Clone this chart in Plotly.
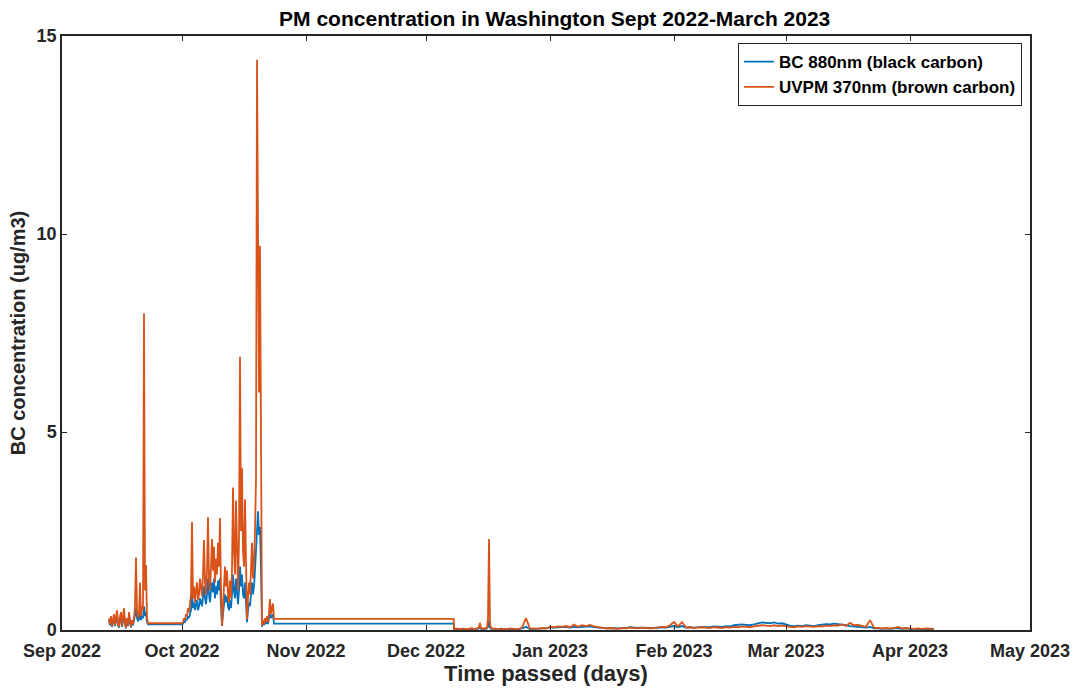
import pandas as pd
import plotly.graph_objects as go

# ---- Measurement segments (start time, sampling step, values) ----
# Segment 1: mid-September burst, 6-hourly
seg1_start = "2022-09-12 18:00"
seg1_step = "6h"
seg1_bc = [0.25, 0.12, 0.28, 0.08, 0.2, 0.3, 0.1, 0.25, 0.38, 0.12,
           0.06, 0.28, 0.35, 0.08, 0.22, 0.4, 0.15, 0.04, 0.24, 0.1,
           0.35, 0.14, 0.06, 0.2, 0.12, 0.24, 0.4, 0.55, 0.3, 0.22,
           0.28, 0.4, 0.25, 0.35, 0.3, 0.6, 0.35, 0.45, 0.2, 0.14]
seg1_uv = [0.3, 0.15, 0.35, 0.1, 0.25, 0.4, 0.12, 0.3, 0.5, 0.15,
           0.08, 0.35, 0.45, 0.1, 0.28, 0.55, 0.2, 0.05, 0.3, 0.12,
           0.45, 0.18, 0.08, 0.25, 0.15, 0.3, 0.6, 1.83, 0.5, 0.3,
           0.4, 1.2, 0.35, 0.6, 0.5, 8.0, 1.0, 1.64, 0.3, 0.17]

# Segment 2: October smoke episode, 6-hourly
seg2_start = "2022-10-01 00:00"
seg2_step = "6h"
seg2_bc = [0.14, 0.16, 0.22, 0.2, 0.28, 0.25, 0.35, 0.3, 0.4, 0.5,
           0.9, 0.55, 0.7, 0.5, 0.65, 0.75, 0.5, 0.6, 0.8, 0.7,
           0.6, 0.85, 1.1, 0.8, 0.65, 0.9, 1.3, 0.9, 0.7, 1.0,
           1.2, 0.95, 1.3, 0.8, 1.1, 0.9, 1.25, 1.0, 1.3, 0.6,
           0.1, 0.4, 0.6, 0.9, 0.7, 0.85, 0.6, 0.5, 0.75, 0.55,
           0.9, 1.4, 1.0, 0.8, 1.3, 0.9, 0.65, 1.0, 1.6, 1.1,
           1.4, 0.9, 0.8, 1.2, 0.6, 0.2, 0.5, 0.7, 0.6, 0.9,
           1.2, 0.9, 1.1, 1.5, 2.0, 2.8, 3.0, 2.4, 2.6, 1.5,
           0.08, 0.2, 0.12, 0.22, 0.15, 0.25, 0.15, 0.3, 0.4, 0.3,
           0.35, 0.4]
seg2_uv = [0.17, 0.2, 0.3, 0.25, 0.4, 0.35, 0.55, 0.45, 0.7, 0.9,
           2.73, 0.8, 1.1, 0.7, 1.0, 1.2, 0.75, 0.9, 1.3, 1.0,
           0.85, 1.4, 2.27, 1.2, 0.9, 1.5, 2.85, 1.3, 1.0, 1.6,
           2.3, 1.5, 2.1, 1.2, 1.8, 1.4, 2.2, 1.6, 2.83, 1.0,
           0.1, 0.6, 1.0, 1.6, 1.1, 1.5, 0.9, 0.7, 1.25, 0.8,
           1.5, 3.6, 2.0, 1.4, 3.27, 1.5, 1.0, 2.3, 6.9, 2.5,
           4.1, 2.0, 1.6, 3.3, 1.1, 0.27, 0.8, 1.2, 0.9, 1.5,
           2.2, 1.3, 1.7, 2.5, 3.8, 14.4, 10.7, 6.0, 9.7, 4.0,
           0.1, 0.25, 0.15, 0.3, 0.2, 0.35, 0.2, 0.45, 0.78, 0.4,
           0.6, 0.67]

# Segment 3: held value while the instrument was offline
seg3_times = ["2022-10-24 00:00", "2022-12-07 22:00"]
seg3_bc = [0.16, 0.16]
seg3_uv = [0.28, 0.28]

# Segment 4: restart in December, 6-hourly
seg4_start = "2022-12-08 00:00"
seg4_step = "6h"
seg4_bc = [0.02, 0.02, 0.03, 0.02, 0.02, 0.02, 0.02, 0.02,
           0.02, 0.03, 0.02, 0.02, 0.02, 0.02, 0.02, 0.02,
           0.03, 0.02, 0.03, 0.02, 0.02, 0.02, 0.03, 0.02,
           0.03, 0.05, 0.07, 0.03, 0.02, 0.03, 0.02, 0.03,
           0.03, 0.04, 0.08, 0.25, 0.06, 0.03, 0.03, 0.03,
           0.02, 0.03, 0.02, 0.02, 0.02, 0.02, 0.02, 0.03]
seg4_uv = [0.03, 0.02, 0.04, 0.03, 0.02, 0.03, 0.02, 0.03,
           0.03, 0.04, 0.02, 0.03, 0.02, 0.03, 0.02, 0.03,
           0.04, 0.03, 0.05, 0.03, 0.03, 0.02, 0.04, 0.03,
           0.04, 0.08, 0.18, 0.05, 0.03, 0.04, 0.03, 0.05,
           0.04, 0.06, 0.3, 2.3, 0.15, 0.05, 0.04, 0.05,
           0.03, 0.04, 0.02, 0.03, 0.03, 0.02, 0.03, 0.04]

# Segment 5: winter record, daily
seg5_start = "2022-12-20"
seg5_step = "1D"
seg5_bc = [0.02, 0.02, 0.03, 0.02, 0.02, 0.04, 0.08, 0.02,
           0.03, 0.03, 0.04, 0.04, 0.06, 0.06, 0.07, 0.07, 0.08, 0.06,
           0.08, 0.07, 0.08, 0.08, 0.09, 0.07, 0.06, 0.05, 0.04, 0.05,
           0.04, 0.04, 0.05, 0.05, 0.07, 0.06, 0.05, 0.06, 0.05, 0.05,
           0.05, 0.06, 0.07, 0.06, 0.08, 0.1, 0.07, 0.1, 0.06, 0.07,
           0.06, 0.07, 0.08, 0.07, 0.07, 0.09, 0.08, 0.08, 0.1, 0.09,
           0.12, 0.13, 0.14, 0.13, 0.12, 0.14, 0.17, 0.19, 0.18, 0.17,
           0.19, 0.16, 0.17, 0.13, 0.11, 0.1, 0.11, 0.1, 0.12, 0.11,
           0.1, 0.12, 0.13, 0.15, 0.14, 0.16, 0.15, 0.14, 0.12, 0.1,
           0.09, 0.08, 0.07, 0.06, 0.08, 0.04, 0.04, 0.03, 0.04, 0.03,
           0.04, 0.05, 0.03, 0.04, 0.03, 0.03, 0.03, 0.02, 0.03, 0.02,
           0.02]
seg5_uv = [0.03, 0.02, 0.04, 0.03, 0.02, 0.06, 0.3, 0.03,
           0.04, 0.03, 0.05, 0.04, 0.08, 0.07, 0.09, 0.08, 0.1, 0.07,
           0.14, 0.08, 0.12, 0.1, 0.13, 0.09, 0.07, 0.05, 0.04, 0.05,
           0.04, 0.03, 0.05, 0.04, 0.06, 0.05, 0.04, 0.06, 0.05, 0.04,
           0.05, 0.06, 0.08, 0.07, 0.12, 0.2, 0.09, 0.2, 0.06, 0.07,
           0.05, 0.06, 0.07, 0.06, 0.05, 0.07, 0.06, 0.05, 0.07, 0.06,
           0.08, 0.07, 0.09, 0.08, 0.07, 0.09, 0.1, 0.12, 0.11, 0.1,
           0.12, 0.1, 0.11, 0.09, 0.08, 0.07, 0.09, 0.08, 0.1, 0.09,
           0.08, 0.1, 0.09, 0.11, 0.1, 0.12, 0.11, 0.14, 0.1, 0.18,
           0.12, 0.13, 0.1, 0.08, 0.25, 0.06, 0.05, 0.04, 0.05, 0.04,
           0.05, 0.08, 0.04, 0.05, 0.04, 0.03, 0.04, 0.03, 0.04, 0.03,
           0.03]

x_range = ["2022-09-01", "2023-05-01"]
y_ticks = [0, 5, 10, 15]

BLUE = "#0072BD"
ORANGE = "#D95319"
AXIS = "#262626"
FONT = "Arial, Liberation Sans, sans-serif"


def seg_times(start, step, n):
    return list(pd.date_range(start=start, periods=n, freq=step))


times = (seg_times(seg1_start, seg1_step, len(seg1_uv))
         + seg_times(seg2_start, seg2_step, len(seg2_uv))
         + list(pd.to_datetime(seg3_times))
         + seg_times(seg4_start, seg4_step, len(seg4_uv))
         + seg_times(seg5_start, seg5_step, len(seg5_uv)))
bc = seg1_bc + seg2_bc + seg3_bc + seg4_bc + seg5_bc
uv = seg1_uv + seg2_uv + seg3_uv + seg4_uv + seg5_uv

fig = go.Figure()
fig.add_trace(go.Scatter(x=times, y=bc, mode="lines", name="BC 880nm (black carbon)",
                         line=dict(color=BLUE, width=1.8)))
fig.add_trace(go.Scatter(x=times, y=uv, mode="lines", name="UVPM 370nm (brown carbon)",
                         line=dict(color=ORANGE, width=1.8)))

axis_common = dict(showline=True, linecolor=AXIS, linewidth=1.5, mirror="ticks",
                   ticks="inside", ticklen=5, tickcolor=AXIS, tickwidth=1,
                   showgrid=False, zeroline=False, automargin=False,
                   tickfont=dict(family=FONT, size=18, color=AXIS, weight="bold"))

fig.update_layout(
    width=1075, height=688,
    margin=dict(l=62, r=45, t=36, b=58),
    paper_bgcolor="white", plot_bgcolor="white",
    title=dict(text="PM concentration in Washington Sept 2022-March 2023",
               x=0.516, xanchor="center", y=0.973, yanchor="middle",
               font=dict(family=FONT, size=21, color="black", weight="bold")),
    xaxis=dict(type="date", range=x_range, dtick="M1", tick0="2022-09-01",
               tickformat="%b %Y", ticklabelstandoff=4,
               title=dict(text="Time passed (days)", standoff=4,
                          font=dict(family=FONT, size=22, color=AXIS, weight="bold")),
               **axis_common),
    yaxis=dict(range=[0, 15], tickvals=y_ticks,
               title=dict(text="BC concentration (ug/m3)", standoff=6,
                          font=dict(family=FONT, size=20, color=AXIS, weight="bold")),
               **axis_common),
    legend=dict(x=0.9917, xanchor="right", y=0.988, yanchor="top",
                bgcolor="white", bordercolor=AXIS, borderwidth=1,
                font=dict(family=FONT, size=17, color="black", weight="bold"),
                itemwidth=30, tracegroupgap=0),
    showlegend=True,
)

fig.write_html("out.html")
